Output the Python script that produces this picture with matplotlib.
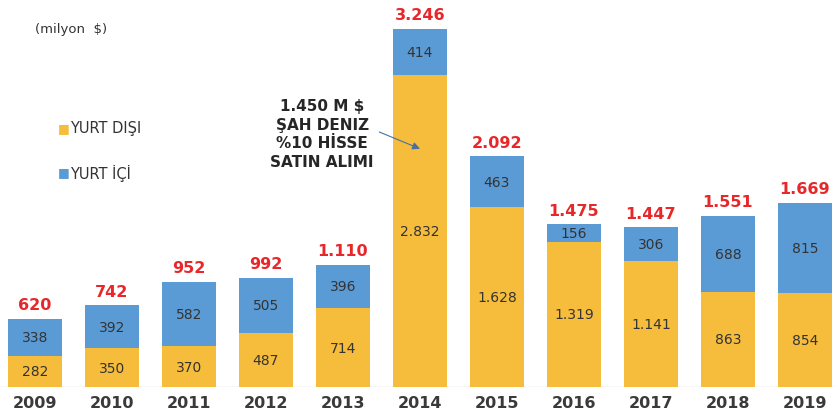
import matplotlib.pyplot as plt

# values (milyon $)
years = ['2009', '2010', '2011', '2012', '2013', '2014',
         '2015', '2016', '2017', '2018', '2019']
yurt_disi = [282, 350, 370, 487, 714, 2832, 1628, 1319, 1141, 863, 854]
yurt_ici = [338, 392, 582, 505, 396, 414, 463, 156, 306, 688, 815]
totals = [620, 742, 952, 992, 1110, 3246, 2092, 1475, 1447, 1551, 1669]


def tr_fmt(v):
    # turkish thousands separator
    return f'{v:,}'.replace(',', '.')


yellow = '#F6BC3C'
blue = '#5B9BD5'

fig = plt.figure(figsize=(8.35, 4.14), dpi=100)
ax = fig.add_axes([0, 0.0628, 1, 0.9372])
x = list(range(len(years)))

ax.bar(x, yurt_disi, width=0.70, color=yellow, zorder=2)
ax.bar(x, yurt_ici, width=0.70, bottom=yurt_disi, color=blue, zorder=2)

for i in x:
    ax.text(i, yurt_disi[i] / 2, tr_fmt(yurt_disi[i]), ha='center', va='center',
            fontsize=10, color='#333333')
    ax.text(i, yurt_disi[i] + yurt_ici[i] / 2, tr_fmt(yurt_ici[i]), ha='center',
            va='center', fontsize=10, color='#333333')
    ax.text(i, totals[i] + 60, tr_fmt(totals[i]), ha='center', va='bottom',
            fontsize=11.5, fontweight='bold', color='#E8272A')

ax.set_xlim(-0.4545, 10.39)
ax.set_ylim(0, 3518)
ax.axhline(0, color='#D9D9D9', lw=1, zorder=1)
for s in ax.spines.values():
    s.set_visible(False)
ax.set_yticks([])
ax.set_xticks(x)
ax.set_xticklabels(years, fontsize=11.5, fontweight='bold', color='#3A3A3A')
ax.tick_params(axis='x', length=0, pad=6)

# unit and legend
fig.text(35 / 835, 1 - 30 / 414, '(milyon  $)', fontsize=9.5, color='#333333',
         va='center')
fig.text(58 / 835, 1 - 129 / 414, '■', fontsize=9, color=yellow, va='center')
fig.text(70 / 835, 1 - 129 / 414, 'YURT DIŞI', fontsize=10.5, color='#333333',
         va='center')
fig.text(58 / 835, 1 - 173 / 414, '■', fontsize=9, color=blue, va='center')
fig.text(70 / 835, 1 - 173 / 414, 'YURT İÇİ', fontsize=10.5, color='#333333',
         va='center')

# note about the 2014 purchase
ax.annotate('1.450 M $\nŞAH DENIZ\n%10 HİSSE\nSATIN ALIMI',
            xy=(5, 2160), xytext=(3.73, 2300), ha='center', va='center',
            fontsize=11, fontweight='bold', color='#262626', linespacing=1.3,
            arrowprops=dict(arrowstyle='-|>', color='#4A6FA5', lw=0.8,
                            shrinkA=2, shrinkB=0,
                            relpos=(1.0, 0.55)))

fig.savefig('out.png', dpi=100)
